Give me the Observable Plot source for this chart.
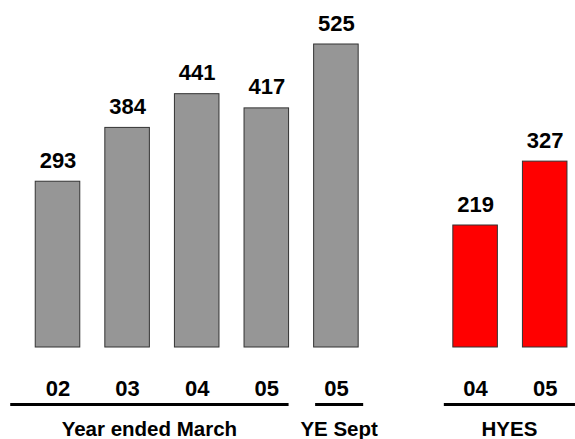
<!DOCTYPE html>
<html>
<head>
<meta charset="utf-8">
<script src="https://cdn.jsdelivr.net/npm/d3@7"></script>
<script src="https://cdn.jsdelivr.net/npm/@observablehq/plot@0.6"></script>
<style>
  html, body { margin: 0; padding: 0; background: #fff; overflow: hidden; }
  svg { display: block; }
</style>
</head>
<body>
<div id="chart"></div>
<script>
// Slot keys along the x axis ("gap" is an empty slot between the groups)
const slots = ["YEM02", "YEM03", "YEM04", "YEM05", "YES05", "gap", "HY04", "HY05"];
// Year labels shown under each bar
const yearLabels = ["02", "03", "04", "05", "05", "04", "05"];
const barKeys = ["YEM02", "YEM03", "YEM04", "YEM05", "YES05", "HY04", "HY05"];
const values = [293, 384, 441, 417, 525, 219, 327];
const series = ["annual", "annual", "annual", "annual", "annual", "half", "half"];

// Period groups drawn under the year labels
const groupLabels = ["Year ended March", "YE Sept", "HYES"];
const groupFirst = ["YEM02", "YES05", "HY04"];
const groupLast = ["YEM05", "YES05", "HY05"];

const data = barKeys.map((id, i) => ({id, year: yearLabels[i], value: values[i], series: series[i]}));
const groups = groupLabels.map((label, i) => ({label, first: groupFirst[i], last: groupLast[i]}));

const font = "'Liberation Sans', Arial, Helvetica, sans-serif";
const axisFloor = 12.75;

const chart = Plot.plot({
  width: 575,
  height: 439,
  marginTop: 0,
  marginLeft: 0,
  marginRight: 0,
  marginBottom: 92,
  style: {fontFamily: font, background: "#fff"},
  x: {type: "band", domain: slots, range: [22.7, 579.5], paddingInner: 0.36, paddingOuter: 0.18, round: false, axis: null},
  y: {domain: [axisFloor, 525], range: [347, 44], axis: null},
  color: {domain: ["annual", "half"], range: ["#969696", "#ff0000"]},
  marks: [
    Plot.barY(data, {x: "id", y1: axisFloor, y2: "value", fill: "series", stroke: "#333", strokeWidth: 1}),
    Plot.text(data, {x: "id", y: "value", text: (d) => String(d.value), lineAnchor: "bottom", dy: -14,
      fontSize: 22, fontWeight: "bold", fill: "#000"}),
    Plot.text(data, {x: "id", frameAnchor: "bottom", text: "year", lineAnchor: "top", dy: 33,
      fontSize: 22, fontWeight: "bold", fill: "#000"})
  ]
});

// Group underlines and captions, positioned from the band scale
const xs = chart.scale("x");
const overhang = {"Year ended March": [25, 0], "YE Sept": [-1.5, 5], "HYES": [9, 8]};
const g = d3.select(chart).append("g");
for (const grp of groups) {
  const [padL, padR] = overhang[grp.label];
  const x1 = xs.apply(grp.first) - padL;
  const x2 = xs.apply(grp.last) + xs.bandwidth + padR;
  g.append("line")
    .attr("x1", x1).attr("x2", x2)
    .attr("y1", 404.5).attr("y2", 404.5)
    .attr("stroke", "#000").attr("stroke-width", 3);
  g.append("text")
    .attr("x", (x1 + x2) / 2).attr("y", 436)
    .attr("text-anchor", "middle")
    .attr("font-family", font).attr("font-size", 20.5).attr("font-weight", "bold")
    .text(grp.label);
}

document.getElementById("chart").appendChild(chart);
</script>
</body>
</html>
